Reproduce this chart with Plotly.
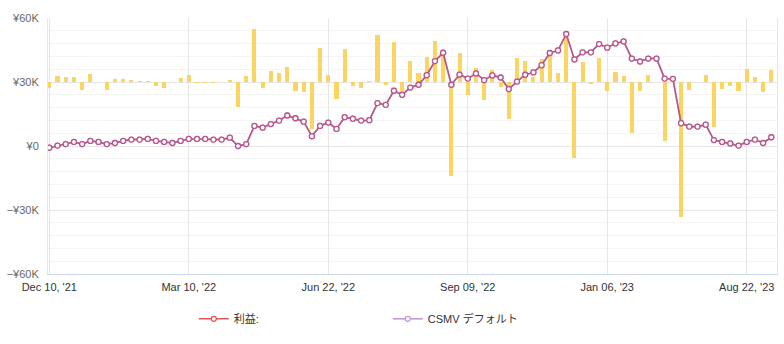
import plotly.graph_objects as go

# ---- data ----
tick_positions = [0, 17, 34, 51, 68, 85]
tick_labels = ["Dec 10, '21", "Mar 10, '22", "Jun 22, '22", "Sep 09, '22", "Jan 06, '23", "Aug 22, '23"]

y_tick_values = [-60000, -30000, 0, 30000, 60000]
y_tick_labels = ["−¥60K", "−¥30K", "¥0", "¥30K", "¥60K"]

# cumulative profit line (thousand yen)
profit_k = [
    -0.8, 0.2, 0.9, 1.9, 0.9, 2.4, 1.9, 0.9, 1.4, 2.4,
    3.0, 3.0, 3.3, 2.4, 1.9, 1.4, 2.4, 3.3, 3.3, 3.3,
    3.0, 3.0, 3.9, 0.0, 0.9, 9.4, 8.6, 10.3, 11.9, 14.3,
    13.0, 11.4, 4.6, 9.4, 11.0, 8.0, 13.5, 12.8, 11.9, 12.1,
    20.1, 19.3, 25.9, 24.0, 27.4, 28.7, 33.2, 39.8, 43.7, 28.7,
    33.5, 31.6, 34.0, 30.9, 33.1, 32.1, 26.7, 30.2, 33.4, 34.5,
    37.9, 43.6, 44.8, 52.5, 40.6, 43.9, 43.9, 47.8, 46.1, 48.1,
    49.0, 41.0, 39.6, 41.0, 41.0, 31.6, 31.5, 10.7, 9.1, 9.1,
    10.0, 2.8, 1.9, 1.2, 0.2, 1.9, 3.0, 1.4, 4.1,
]

# per-period change bars (thousand yen, drawn from the ¥30K baseline)
change_k = [
    -2.8, 2.6, 2.2, 2.2, -3.6, 3.6, 0.0, -3.6, 1.5, 1.5,
    1.1, 0.5, 0.5, -1.7, -2.8, 0.0, 1.7, 3.1, -0.3, -0.3,
    -0.3, 0.2, 0.9, -11.8, 2.6, 24.9, -2.8, 5.3, 4.2, 7.1,
    -4.4, -4.7, -22.1, 16.0, 3.3, -8.0, 15.5, -2.1, -2.8, 0.3,
    22.1, -1.3, 18.8, -4.9, 9.9, 4.2, 11.6, 19.3, 14.4, -43.9,
    13.6, -6.0, 6.6, -8.6, 5.5, -2.4, -17.4, 11.3, 9.9, 2.4,
    10.8, 12.4, 4.2, 21.4, -35.7, 9.4, -0.8, 11.3, -4.4, 4.7,
    2.6, -24.0, -4.1, 3.3, 0.0, -27.6, 0.0, -63.5, -3.6, 0.0,
    3.3, -21.2, -3.3, -2.1, -4.2, 6.1, 2.4, -4.6, 5.6,
]

bar_baseline = 30000
series_names = ["利益:", "CSMV デフォルト"]

x_idx = list(range(len(profit_k)))
profit = [v * 1000 for v in profit_k]
change = [v * 1000 for v in change_k]

FONT = "Liberation Sans, Arial, Noto Sans CJK JP, sans-serif"

fig = go.Figure()

fig.add_trace(go.Bar(
    x=x_idx, y=change, base=bar_baseline, width=0.5,
    marker=dict(color="rgba(250,208,80,0.9)", line=dict(width=0)),
    showlegend=False, hoverinfo="skip",
))

fig.add_trace(go.Scatter(
    x=x_idx, y=profit, name=series_names[0], mode="lines+markers",
    line=dict(color="#e05757", width=1.6),
    marker=dict(symbol="circle", size=5, color="white",
                line=dict(color="#e05757", width=1.3)),
))

fig.add_trace(go.Scatter(
    x=x_idx, y=profit, name=series_names[1], mode="lines+markers",
    line=dict(color="#9b59b6", width=1.6), opacity=0.6,
    marker=dict(symbol="circle", size=5, color="white",
                line=dict(color="#9b59b6", width=1.3)),
))

fig.update_layout(
    width=784, height=344,
    margin=dict(l=48, r=7, t=18, b=70),
    paper_bgcolor="white", plot_bgcolor="white",
    font=dict(family=FONT, size=11, color="#333333"),
    bargap=0,
    legend=dict(
        orientation="h", x=0.2, xanchor="left", y=-0.175, yanchor="middle",
        font=dict(size=11, color="#333333"),
        entrywidth=149, entrywidthmode="pixels",
        bgcolor="rgba(0,0,0,0)",
    ),
    xaxis=dict(
        range=[-0.16, 88.69],
        tickmode="array", tickvals=tick_positions, ticktext=tick_labels,
        showgrid=True, gridcolor="#e6e6e6", gridwidth=1,
        zeroline=False, showline=True, linecolor="#ccd6eb", linewidth=1,
        ticks="", ticklabelstandoff=3, tickfont=dict(size=11, color="#333333"),
    ),
    yaxis=dict(
        range=[-60000, 60000],
        tickmode="array", tickvals=y_tick_values, ticktext=y_tick_labels,
        showgrid=True, gridcolor="#e6e6e6", gridwidth=1,
        minor=dict(dtick=6000, tick0=0, showgrid=True, gridcolor="#f4f4f4", gridwidth=1),
        zeroline=False, showline=True, mirror=True, linecolor="#e6e6e6", linewidth=1,
        ticks="", ticklabelstandoff=6, tickfont=dict(size=11, color="#666666"),
    ),
)

fig.write_html("out.html")
